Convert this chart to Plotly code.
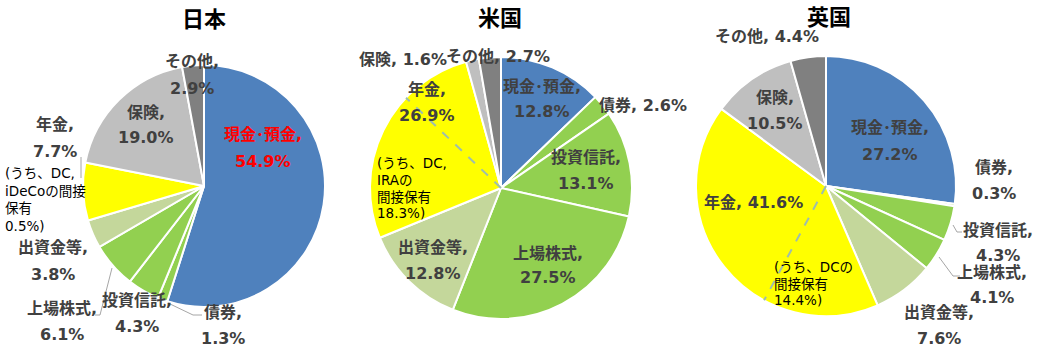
import math
import plotly.graph_objects as go

W, H = 1037, 355

# ---------------- data ----------------
categories = ["現金・預金", "債券", "投資信託", "上場株式", "出資金等", "年金", "保険", "その他"]
countries = ["日本", "米国", "英国"]
japan_values = [54.9, 1.3, 4.3, 6.1, 3.8, 7.7, 19.0, 2.9]
us_values = [12.8, 2.6, 13.1, 27.5, 12.8, 26.9, 1.6, 2.7]
uk_values = [27.2, 0.3, 4.3, 4.1, 7.6, 41.6, 10.5, 4.4]
dc_share = [0.5, 18.3, 14.4]          # うち DC 等の間接保有 (% of total)
dc_notes = [
    ["(うち、DC,", "iDeCoの間接", "保有", "0.5%)"],
    ["(うち、DC,", "IRAの", "間接保有", "18.3%)"],
    ["(うち、DCの", "間接保有", "14.4%)"],
]
series = [japan_values, us_values, uk_values]

# ---------------- style ----------------
colors = ["#4F81BD", "#92D050", "#92D050", "#92D050", "#C4D79B", "#FFFF00", "#BFBFBF", "#808080"]
pies = [  # center x, center y, radius (px)
    (204, 186, 121),
    (501, 188, 131),
    (826, 186, 130),
]
title_pos = [(204, 17), (500, 16), (829, 15)]
FONT = "DejaVu Sans, Noto Sans CJK JP, sans-serif"
TXT = "#404040"

def px(x, y):
    return x / W, 1 - y / H

fig = go.Figure()
for vals, (cx, cy, r) in zip(series, pies):
    x0, y1 = px(cx - r, cy - r)
    x1, y0 = px(cx + r, cy + r)
    fig.add_trace(go.Pie(
        labels=categories, values=vals, sort=False, direction="clockwise",
        rotation=0, textinfo="none", hoverinfo="label+percent",
        marker=dict(colors=colors, line=dict(color="white", width=2)),
        domain=dict(x=[x0, x1], y=[y0, y1]), showlegend=False,
    ))

annotations = []

def label(x, y, lines, color=TXT, size=16, bold=True, spacing=26, anchor="center"):
    for i, t in enumerate(lines):
        ax, ay = px(x, y + i * spacing)
        annotations.append(dict(
            x=ax, y=ay, xref="paper", yref="paper", showarrow=False,
            text=f"<b>{t}</b>" if bold else t, xanchor=anchor, yanchor="middle",
            font=dict(family=FONT, size=size, color=color),
        ))

for name, (tx, ty) in zip(countries, title_pos):
    ax, ay = px(tx, ty)
    annotations.append(dict(
        x=ax, y=ay, xref="paper", yref="paper", showarrow=False,
        text=f"<b>{name}</b>", xanchor="center", yanchor="middle",
        font=dict(family="Noto Sans CJK JP, sans-serif", size=22, color="black"),
    ))

def pct(v):
    return f"{v:.1f}%"

jv, uv, kv = japan_values, us_values, uk_values
c = categories
# 日本
label(192, 62, [c[7] + ",", pct(jv[7])])
label(146, 112, [c[6] + ",", pct(jv[6])])
label(263, 135, ["現金･預金,", pct(jv[0])], color="#FF0000")
label(55, 125, [c[5] + ",", pct(jv[5])])
label(53, 248, [c[4] + ",", pct(jv[4])])
label(62, 308, [c[3] + ",", pct(jv[3])])
label(137, 300, [c[2] + ",", pct(jv[2])])
label(223, 312, [c[1] + ",", pct(jv[1])])
label(3, 173, dc_notes[0], color="black", size=13.5, bold=False, spacing=17.6, anchor="left")
# 米国
label(403, 59, [f"{c[6]}, {pct(uv[6])}"])
label(498, 56, [f"{c[7]}, {pct(uv[7])}"])
label(542, 86, ["現金･預金,", pct(uv[0])], spacing=25)
label(643, 105, [f"{c[1]}, {pct(uv[1])}"])
label(586, 157, [c[2] + ",", pct(uv[2])])
label(427, 89, [c[5] + ",", pct(uv[5])])
label(433, 247, [c[4] + ",", pct(uv[4])])
label(548, 253, [c[3] + ",", pct(uv[3])], spacing=24)
label(375, 163, dc_notes[1], color="black", size=13.5, bold=False, spacing=16.8, anchor="left")
# 英国
label(767, 37, [f"{c[7]}, {pct(kv[7])}"])
label(775, 97, [c[6] + ",", pct(kv[6])])
label(890, 128, ["現金･預金,", pct(kv[0])])
label(994, 167, [c[1] + ",", pct(kv[1])])
label(998, 230, [c[2] + ",", pct(kv[2])], spacing=25)
label(992, 272, [c[3] + ",", pct(kv[3])], spacing=25)
label(939, 312, [c[4] + ",", pct(kv[4])])
label(753, 202, [f"{c[5]}, {pct(kv[5])}"])
label(772, 267, dc_notes[2], color="black", size=13.5, bold=False, spacing=16.6, anchor="left")

shapes = []

def leader(points):
    path = ""
    for i, (x, y) in enumerate(points):
        path += ("M" if i == 0 else "L") + f"{x / W},{1 - y / H} "
    shapes.append(dict(type="path", xref="paper", yref="paper", path=path.strip(),
                       line=dict(color="#A6A6A6", width=1)))

leader([(81, 157), (81, 178)])
leader([(95, 315), (100, 315), (112, 268)])
leader([(168, 303), (193, 315), (202, 315)])
leader([(953, 225), (957, 232), (962, 232)])
leader([(939, 257), (953, 276), (960, 276)])

# dashed DC split lines inside 年金 slices (米国, 英国)
nenkin = categories.index("年金")
for k in (1, 2):
    vals = series[k]
    cx, cy, r = pies[k]
    frac = (sum(vals[:nenkin]) + dc_share[k]) / sum(vals)
    th = 2 * math.pi * frac
    ex, ey = cx + r * math.sin(th), cy - r * math.cos(th)
    x0, y0 = px(cx, cy)
    x1, y1 = px(ex, ey)
    shapes.append(dict(type="line", xref="paper", yref="paper", x0=x0, y0=y0, x1=x1, y1=y1,
                       line=dict(color="#9DBDAE", width=2, dash="dash")))

fig.update_layout(
    width=W, height=H, margin=dict(l=0, r=0, t=0, b=0),
    paper_bgcolor="white", plot_bgcolor="white",
    annotations=annotations, shapes=shapes,
)
fig.write_html(
    "out.html",
    config={"displayModeBar": False},
    post_script="document.body.style.margin='0';document.body.style.overflow='hidden';",
)
